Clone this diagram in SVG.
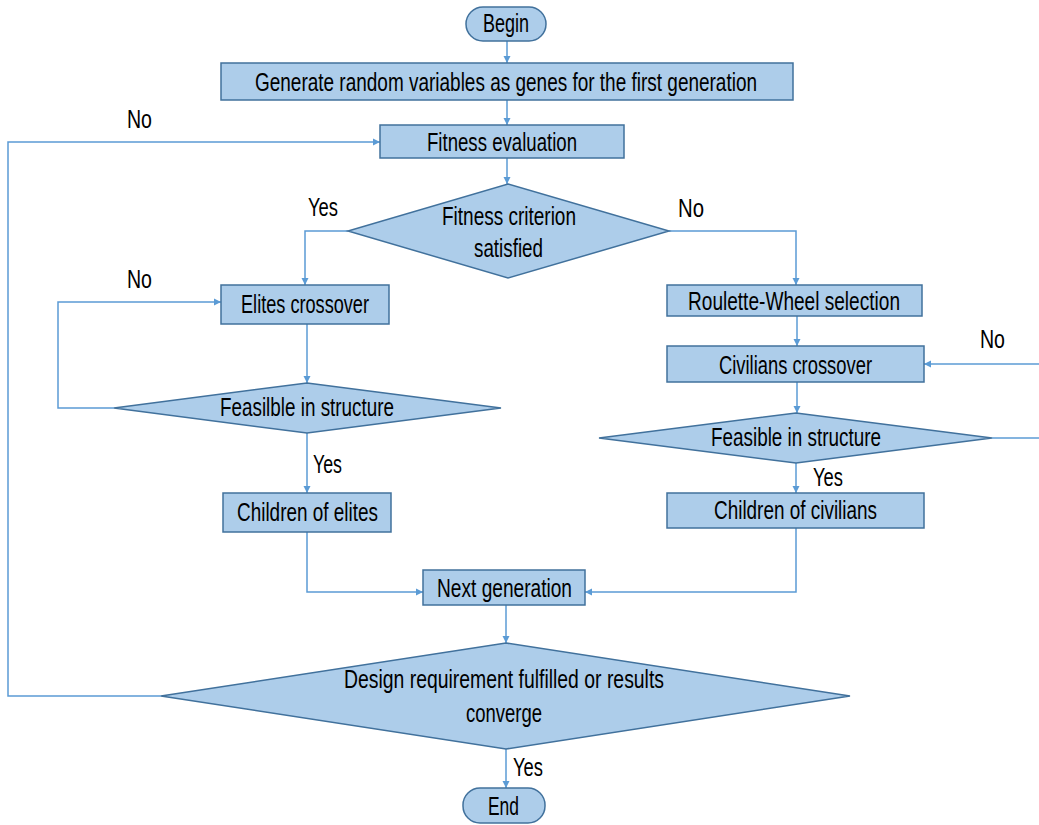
<svg xmlns="http://www.w3.org/2000/svg" width="1039" height="825" viewBox="0 0 1039 825">
  <style>
    .box { fill: #adcdea; stroke: #41719c; stroke-width: 1.5; }
    .lbl { font-family: "Liberation Sans", Arial, sans-serif; font-size: 25px; fill: #000; }
    .wire { fill: none; stroke: #5b9bd5; stroke-width: 1.5; }
  </style>
  <defs>
    <marker id="arrow" markerWidth="8" markerHeight="8" refX="7" refY="4" orient="auto" markerUnits="userSpaceOnUse">
      <path d="M0,0.5 L7,4 L0,7.5 Z" fill="#5b9bd5"/>
    </marker>
  </defs>
  <rect width="1039" height="825" fill="#ffffff"/>

  <!-- connectors -->
  <g id="connectors">
    <path class="wire" d="M507,41 V63" marker-end="url(#arrow)"/>
    <path class="wire" d="M507,100 V125" marker-end="url(#arrow)"/>
    <path class="wire" d="M507,158 V184" marker-end="url(#arrow)"/>
    <path class="wire" d="M348,231 H305 V285" marker-end="url(#arrow)"/>
    <path class="wire" d="M669,231 H796 V285" marker-end="url(#arrow)"/>
    <path class="wire" d="M307,324 V383" marker-end="url(#arrow)"/>
    <path class="wire" d="M114,408 H58 V302 H221" marker-end="url(#arrow)"/>
    <path class="wire" d="M307,433 V493" marker-end="url(#arrow)"/>
    <path class="wire" d="M797,316 V346" marker-end="url(#arrow)"/>
    <path class="wire" d="M797,382 V413" marker-end="url(#arrow)"/>
    <path class="wire" d="M992,438 H1039"/>
    <path class="wire" d="M1039,364 H924" marker-end="url(#arrow)"/>
    <path class="wire" d="M796,463 V493" marker-end="url(#arrow)"/>
    <path class="wire" d="M307,532 V592 H423" marker-end="url(#arrow)"/>
    <path class="wire" d="M796,528 V592 H585" marker-end="url(#arrow)"/>
    <path class="wire" d="M506,605 V643" marker-end="url(#arrow)"/>
    <path class="wire" d="M161,696 H8 V142 H380" marker-end="url(#arrow)"/>
    <path class="wire" d="M506,749 V788" marker-end="url(#arrow)"/>
  </g>

  <!-- branch labels -->
  <g id="branch-labels">
    <text class="lbl" x="127" y="128" textLength="25" lengthAdjust="spacingAndGlyphs">No</text>
    <text class="lbl" x="308" y="216" textLength="30" lengthAdjust="spacingAndGlyphs">Yes</text>
    <text class="lbl" x="678" y="217" textLength="26" lengthAdjust="spacingAndGlyphs">No</text>
    <text class="lbl" x="127" y="288" textLength="25" lengthAdjust="spacingAndGlyphs">No</text>
    <text class="lbl" x="313" y="473" textLength="29" lengthAdjust="spacingAndGlyphs">Yes</text>
    <text class="lbl" x="980" y="348" textLength="25" lengthAdjust="spacingAndGlyphs">No</text>
    <text class="lbl" x="813" y="486" textLength="30" lengthAdjust="spacingAndGlyphs">Yes</text>
    <text class="lbl" x="513" y="776" textLength="30" lengthAdjust="spacingAndGlyphs">Yes</text>
  </g>

  <g id="begin">
    <rect class="box" x="466" y="7" width="80" height="34" rx="17"/>
    <text class="lbl" x="483" y="32" textLength="46" lengthAdjust="spacingAndGlyphs">Begin</text>
  </g>
  <g id="generate">
    <rect class="box" x="221" y="63" width="572" height="37"/>
    <text class="lbl" x="255" y="91" textLength="502" lengthAdjust="spacingAndGlyphs">Generate random variables as genes for the first generation</text>
  </g>
  <g id="fitness-evaluation">
    <rect class="box" x="380" y="125" width="244" height="33"/>
    <text class="lbl" x="427" y="151" textLength="150" lengthAdjust="spacingAndGlyphs">Fitness evaluation</text>
  </g>
  <g id="fitness-criterion">
    <polygon class="box" points="508,184 669,231 508,278 348,231"/>
    <text class="lbl" x="442" y="225" textLength="134" lengthAdjust="spacingAndGlyphs">Fitness criterion</text>
    <text class="lbl" x="474" y="257" textLength="69" lengthAdjust="spacingAndGlyphs">satisfied</text>
  </g>
  <g id="elites-crossover">
    <rect class="box" x="221" y="285" width="168" height="39"/>
    <text class="lbl" x="241" y="313" textLength="128" lengthAdjust="spacingAndGlyphs">Elites crossover</text>
  </g>
  <g id="elites-feasible">
    <polygon class="box" points="307,383 501,408 307,433 114,408"/>
    <text class="lbl" x="220" y="416" textLength="174" lengthAdjust="spacingAndGlyphs">Feasilble in structure</text>
  </g>
  <g id="children-elites">
    <rect class="box" x="223" y="493" width="168" height="39"/>
    <text class="lbl" x="237" y="521" textLength="141" lengthAdjust="spacingAndGlyphs">Children of elites</text>
  </g>
  <g id="roulette">
    <rect class="box" x="667" y="285" width="255" height="31"/>
    <text class="lbl" x="688" y="310" textLength="212" lengthAdjust="spacingAndGlyphs">Roulette-Wheel selection</text>
  </g>
  <g id="civilians-crossover">
    <rect class="box" x="667" y="346" width="257" height="36"/>
    <text class="lbl" x="719" y="374" textLength="153" lengthAdjust="spacingAndGlyphs">Civilians crossover</text>
  </g>
  <g id="civilians-feasible">
    <polygon class="box" points="796,413 992,438 796,463 599,438"/>
    <text class="lbl" x="711" y="446" textLength="170" lengthAdjust="spacingAndGlyphs">Feasible in structure</text>
  </g>
  <g id="children-civilians">
    <rect class="box" x="667" y="493" width="257" height="35"/>
    <text class="lbl" x="714" y="519" textLength="163" lengthAdjust="spacingAndGlyphs">Children of civilians</text>
  </g>
  <g id="next-generation">
    <rect class="box" x="423" y="570" width="162" height="35"/>
    <text class="lbl" x="437" y="597" textLength="135" lengthAdjust="spacingAndGlyphs">Next generation</text>
  </g>
  <g id="design-check">
    <polygon class="box" points="506,643 850,696 506,749 161,696"/>
    <text class="lbl" x="344" y="688" textLength="320" lengthAdjust="spacingAndGlyphs">Design requirement fulfilled or results</text>
    <text class="lbl" x="466" y="722" textLength="76" lengthAdjust="spacingAndGlyphs">converge</text>
  </g>
  <g id="end">
    <rect class="box" x="463" y="788" width="82" height="35" rx="17"/>
    <text class="lbl" x="488" y="815" textLength="31" lengthAdjust="spacingAndGlyphs">End</text>
  </g>
</svg>
